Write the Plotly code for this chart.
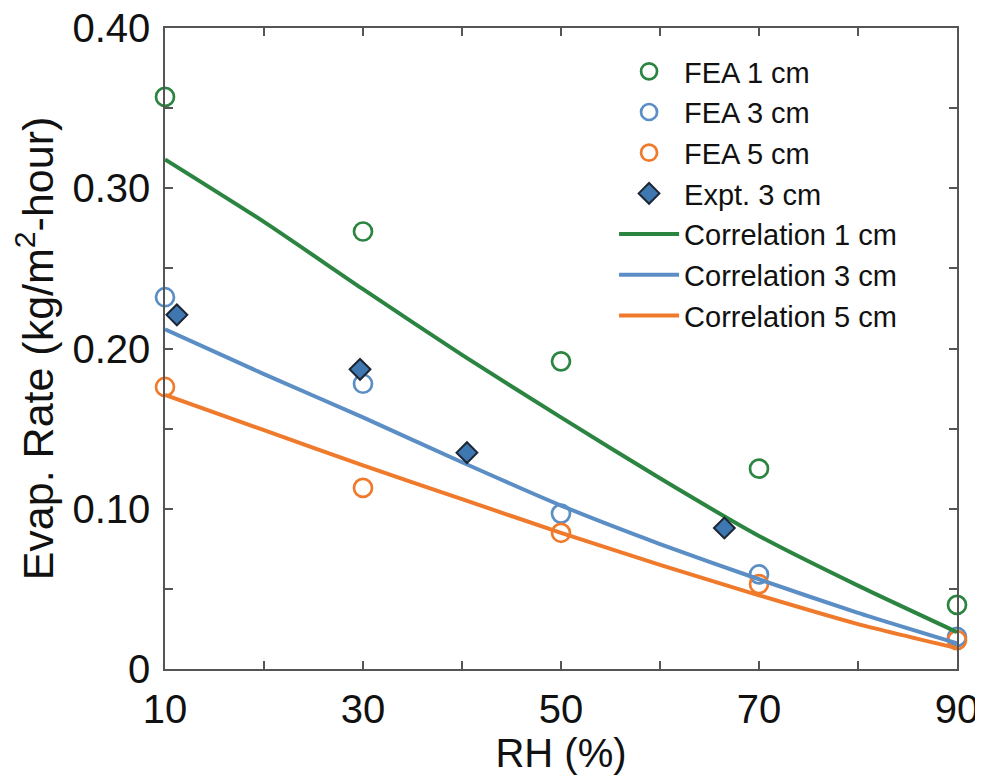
import plotly.graph_objects as go

# FEA simulation points
rh_fea = [10, 30, 50, 70, 90]
fea_1cm = [0.357, 0.273, 0.192, 0.125, 0.040]
fea_3cm = [0.232, 0.178, 0.097, 0.059, 0.020]
fea_5cm = [0.176, 0.113, 0.085, 0.053, 0.018]

# Experimental points
rh_expt = [11.2, 29.7, 40.5, 66.5]
expt_3cm = [0.221, 0.187, 0.135, 0.088]

# Correlation curves
rh_corr = [10, 20, 30, 40, 50, 60, 70, 80, 90]
corr_1cm = [0.318, 0.279, 0.237, 0.196, 0.157, 0.119, 0.083, 0.052, 0.023]
corr_3cm = [0.212, 0.184, 0.157, 0.129, 0.102, 0.078, 0.056, 0.035, 0.016]
corr_5cm = [0.171, 0.149, 0.127, 0.106, 0.085, 0.065, 0.046, 0.028, 0.013]

x_ticks = [10, 30, 50, 70, 90]
y_ticks = [0, 0.10, 0.20, 0.30, 0.40]
y_ticklabels = ["0", "0.10", "0.20", "0.30", "0.40"]

GREEN = "#2b8541"
BLUE = "#5b8ec4"
ORANGE = "#f07a2c"
DIAMOND = "#3f78b0"
FONT = "Liberation Sans, Arial, sans-serif"

fig = go.Figure()

for name, ys, col, rank in [("FEA 1 cm", fea_1cm, GREEN, 1),
                            ("FEA 3 cm", fea_3cm, BLUE, 2),
                            ("FEA 5 cm", fea_5cm, ORANGE, 3)]:
    fig.add_trace(go.Scatter(x=rh_fea, y=ys, mode="markers", name=name, legendrank=rank,
                             marker=dict(symbol="circle-open", size=18, color=col,
                                         line=dict(width=2.7, color=col)),
                             cliponaxis=False))

for name, ys, col, rank in [("Correlation 1 cm", corr_1cm, GREEN, 5),
                            ("Correlation 3 cm", corr_3cm, BLUE, 6),
                            ("Correlation 5 cm", corr_5cm, ORANGE, 7)]:
    fig.add_trace(go.Scatter(x=rh_corr, y=ys, mode="lines", name=name, legendrank=rank,
                             line=dict(color=col, width=4, shape="spline", smoothing=0.6),
                             cliponaxis=False))

fig.add_trace(go.Scatter(x=rh_expt, y=expt_3cm, mode="markers", name="Expt. 3 cm", legendrank=4,
                         marker=dict(symbol="diamond", size=16, color=DIAMOND,
                                     line=dict(width=2, color="#1c2533")),
                         cliponaxis=False))

axis_common = dict(showline=True, linecolor="#555555", linewidth=1.5, mirror="ticks",
                   ticks="inside", ticklen=8, tickwidth=1.5, tickcolor="#555555",
                   showgrid=False, zeroline=False, automargin=False,
                   ticklabeloverflow="allow",
                   tickfont=dict(family=FONT, size=40, color="#111111"))

fig.update_xaxes(range=[10, 90], tickmode="array", tickvals=x_ticks, ticklabelstandoff=4,
                 title=dict(text="RH (%)", font=dict(family=FONT, size=40, color="#111111"), standoff=0),
                 minor=dict(dtick=10, tick0=10, ticks="inside", ticklen=8, tickwidth=1.5, tickcolor="#555555", showgrid=False),
                 **axis_common)
fig.update_yaxes(range=[0, 0.40], tickmode="array", tickvals=y_ticks, ticktext=y_ticklabels, ticklabelstandoff=5,
                 title=dict(text="Evap. Rate (kg/m<sup>2</sup>-hour)", font=dict(family=FONT, size=43, color="#111111"), standoff=16),
                 minor=dict(dtick=0.05, tick0=0, ticks="inside", ticklen=8, tickwidth=1.5, tickcolor="#555555", showgrid=False),
                 **axis_common)

# page body has an 8px margin, so the figure is shrunk and margins shifted to compensate
fig.update_layout(
    width=975, height=772,
    margin=dict(l=157, r=26, t=20, b=111),
    plot_bgcolor="white", paper_bgcolor="white",
    legend=dict(x=0.567, y=0.972, xanchor="left", yanchor="top",
                bgcolor="rgba(0,0,0,0)", borderwidth=0,
                font=dict(family=FONT, size=29, color="#111111"),
                tracegroupgap=0, itemwidth=60),
    showlegend=True,
)

fig.write_html("out.html")
